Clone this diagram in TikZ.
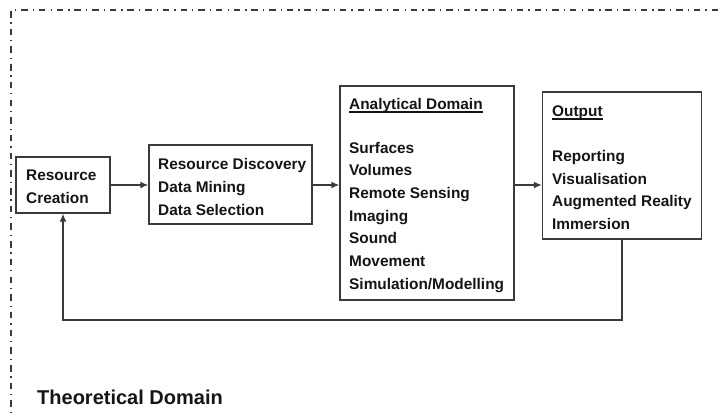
\documentclass[tikz,border=0pt]{standalone}
\usepackage{fontspec}
\setmainfont{Liberation Sans}
\usetikzlibrary{arrows.meta}
\definecolor{ink}{HTML}{151515}
\definecolor{frame}{HTML}{3A3A3A}
\tikzset{
  box/.style={draw=frame, line width=1.4pt, fill=white, inner sep=0pt, rectangle},
  lbl/.style={anchor=base west, inner sep=0pt, text=ink, font=\fontsize{15.4}{18}\selectfont\bfseries},
  title/.style={anchor=base west, inner sep=0pt, text=ink, font=\fontsize{20}{24}\selectfont\bfseries},
  arr/.style={draw=frame, line width=1.4pt, -{Latex[length=8pt,width=7pt]}},
  uline/.style={draw=ink, line width=1.1pt},
  dashdotframe/.style={draw=frame, line width=1.3pt,
    dash pattern=on 6.5pt off 4.8pt on 1.3pt off 5.1pt}
}
\begin{document}
\begin{tikzpicture}[x=1pt, y=-1pt]
\useasboundingbox (0,0) rectangle (718,416);

% outer dash-dot frame of the theoretical domain
\coordinate (fr1) at (718,10);
\coordinate (fr2) at (11,10);
\coordinate (fr3) at (11,416);
\draw[dashdotframe] (fr1) -- (fr2) -- (fr3);

% boxes
\node[box, minimum width=94pt,  minimum height=56pt]  (rc)  at (63,185) {};
\node[box, minimum width=163pt, minimum height=79pt]  (rd)  at (230.5,184.5) {};
\node[box, minimum width=174pt, minimum height=214pt] (ad)  at (427,193) {};
\node[box, minimum width=159pt, minimum height=147pt] (out) at (622,165.5) {};

% resource creation
\node[lbl] (rc1) at (26,180) {Resource};
\node[lbl] (rc2) at (26,203) {Creation};

% resource discovery
\node[lbl] (rd1) at (158,169) {Resource Discovery};
\node[lbl] (rd2) at (158,192) {Data Mining};
\node[lbl] (rd3) at (158,215) {Data Selection};

% analytical domain
\node[lbl] (adh) at (349,109) {Analytical Domain};
\draw[uline] ([yshift=-3pt]adh.base west) -- ([yshift=-3pt]adh.base east);
\foreach \t [count=\i] in {Surfaces,Volumes,Remote Sensing,Imaging,Sound,Movement,{Simulation/Modelling}}
  \node[lbl] (ad\i) at (349,{153+22.7*(\i-1)}) {\t};

% output
\node[lbl] (outh) at (552,116) {Output};
\draw[uline] ([yshift=-3pt]outh.base west) -- ([yshift=-3pt]outh.base east);
\foreach \t [count=\i] in {Reporting,Visualisation,Augmented Reality,Immersion}
  \node[lbl] (out\i) at (552,{161.5+22.7*(\i-1)}) {\t};

% connectors
\draw[arr] (rc.east) -- (rc.east -| rd.west);
\draw[arr] (rd.east |- rc.east) -- (ad.west |- rc.east);
\draw[arr] (ad.east |- rc.east) -- (out.west |- rc.east);
\coordinate (fb) at (63,320);
\draw[arr] (out.south) |- (fb) -- (rc.south);

% caption
\node[title] (td) at (37,404) {Theoretical Domain};
\end{tikzpicture}
\end{document}
